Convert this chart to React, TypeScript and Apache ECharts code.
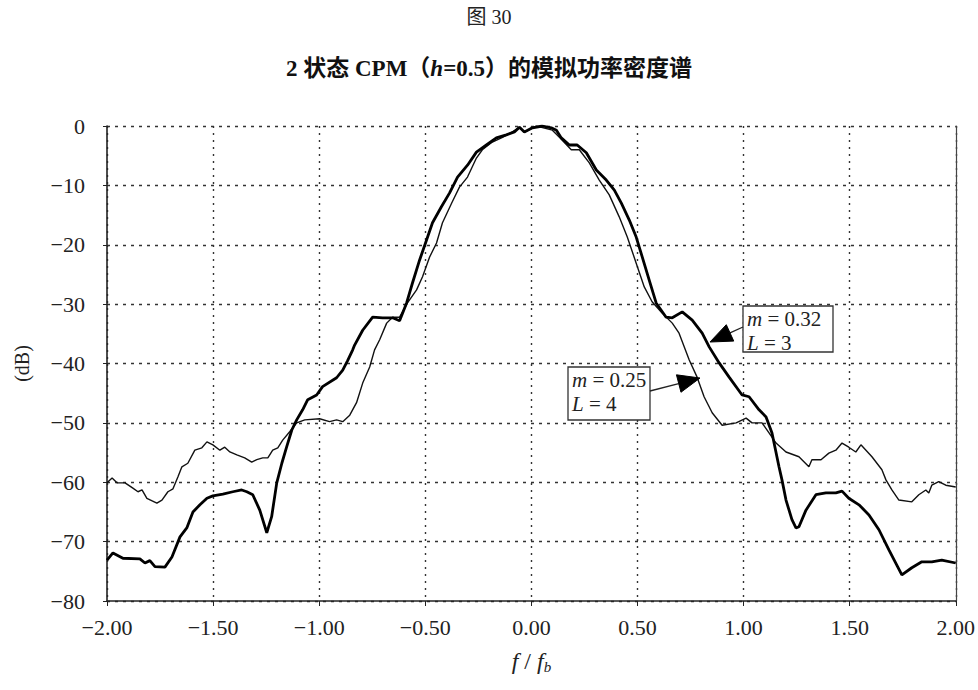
import React, { useEffect, useRef } from "react";
import * as echarts from "echarts";

const xTicks = [-2, -1.5, -1, -0.5, 0, 0.5, 1, 1.5, 2];
const yTicks = [0, -10, -20, -30, -40, -50, -60, -70, -80];

// m = 0.32, L = 3 (thick curve)
const thickX = [
  -2.0, -1.972, -1.925, -1.845, -1.821, -1.798, -1.774, -1.727, -1.694, -1.656,
  -1.624, -1.595, -1.562, -1.529, -1.501, -1.454, -1.407, -1.365, -1.341, -1.313,
  -1.28, -1.247, -1.224, -1.2, -1.176, -1.153, -1.129, -1.106, -1.078, -1.054,
  -1.012, -0.984, -0.918, -0.889, -0.866, -0.842, -0.833, -0.795, -0.748, -0.701,
  -0.654, -0.621, -0.588, -0.56, -0.527, -0.494, -0.466, -0.424, -0.386, -0.348,
  -0.301, -0.259, -0.212, -0.165, -0.118, -0.08, -0.056, -0.033, 0.005, 0.052,
  0.094, 0.118, 0.141, 0.179, 0.216, 0.259, 0.306, 0.353, 0.391, 0.424,
  0.461, 0.494, 0.522, 0.555, 0.588, 0.635, 0.664, 0.711, 0.758, 0.805,
  0.838, 0.885, 0.932, 0.993, 1.026, 1.073, 1.106, 1.134, 1.167, 1.181,
  1.2, 1.228, 1.247, 1.261, 1.294, 1.341, 1.388, 1.435, 1.464, 1.496,
  1.544, 1.591, 1.638, 1.685, 1.746, 1.793, 1.84, 1.887, 1.934, 2.0,
];
const thickY = [
  -73.1, -71.9, -72.8, -72.9, -73.6, -73.2, -74.2, -74.3, -72.6, -69.2,
  -67.7, -65.0, -63.8, -62.7, -62.3, -62.0, -61.6, -61.3, -61.6, -62.1,
  -64.7, -68.5, -65.8, -60.1, -56.8, -54.0, -51.2, -49.5, -47.8, -46.1,
  -45.3, -43.9, -42.4, -41.1, -39.5, -37.7, -36.9, -34.4, -32.2, -32.3,
  -32.3, -32.8, -29.8, -26.4, -22.6, -19.2, -16.3, -13.6, -11.3, -8.6,
  -6.6, -4.4, -3.2, -2.0, -1.5, -1.0, -0.2, -1.0, -0.3, 0,
  -0.3, -0.7, -2.0, -3.2, -3.2, -4.5, -7.4, -9.1, -10.8, -13.0,
  -15.8, -18.7, -22.0, -25.9, -29.8, -32.2, -32.3, -31.3, -32.7, -34.9,
  -37.2, -39.9, -42.3, -45.3, -45.6, -47.8, -49.0, -51.7, -57.4, -59.6,
  -63.0, -66.3, -67.7, -67.5, -64.7, -62.1, -61.8, -61.8, -61.5, -62.7,
  -63.8, -65.5, -68.0, -71.4, -75.6, -74.4, -73.4, -73.4, -73.1, -73.6,
];

// m = 0.25, L = 4 (thin curve)
const thinX = [
  -2.0, -1.976, -1.953, -1.915, -1.878, -1.854, -1.835, -1.812, -1.765, -1.741,
  -1.713, -1.689, -1.666, -1.647, -1.619, -1.586, -1.553, -1.529, -1.501, -1.468,
  -1.445, -1.421, -1.388, -1.351, -1.318, -1.294, -1.266, -1.242, -1.219, -1.195,
  -1.172, -1.139, -1.106, -1.068, -0.998, -0.951, -0.918, -0.889, -0.856, -0.824,
  -0.795, -0.762, -0.739, -0.715, -0.682, -0.654, -0.621, -0.584, -0.541, -0.513,
  -0.48, -0.447, -0.419, -0.376, -0.339, -0.301, -0.259, -0.231, -0.184, -0.136,
  -0.089, -0.056, -0.033, 0.024, 0.099, 0.132, 0.188, 0.226, 0.273, 0.32,
  0.367, 0.414, 0.452, 0.494, 0.532, 0.569, 0.616, 0.664, 0.696, 0.744,
  0.781, 0.814, 0.852, 0.899, 0.965, 1.012, 1.04, 1.087, 1.12, 1.153,
  1.2, 1.261, 1.308, 1.322, 1.365, 1.402, 1.435, 1.464, 1.496, 1.529,
  1.553, 1.605, 1.652, 1.671, 1.699, 1.732, 1.793, 1.826, 1.859, 1.873,
  1.887, 1.92, 1.953, 2.0,
];
const thinY = [
  -60.1, -59.3, -60.1, -60.1, -61.0, -61.6, -61.3, -62.7, -63.5, -63.0,
  -61.6, -61.1, -59.1, -57.4, -56.8, -54.6, -54.2, -53.2, -53.7, -54.6,
  -54.1, -54.9, -55.4, -55.9, -56.6, -56.2, -55.9, -55.9, -54.6, -54.2,
  -52.9, -51.5, -50.0, -49.5, -49.3, -49.8, -49.5, -49.8, -48.7, -46.6,
  -43.3, -40.6, -37.7, -36.0, -33.2, -32.2, -32.2, -29.8, -27.6, -25.4,
  -22.1, -19.7, -16.3, -13.0, -10.3, -8.6, -5.4, -4.0, -2.7, -1.9,
  -1.0, -0.2, -1.0, 0, -0.7, -1.9, -4.0, -4.0, -6.2, -9.1,
  -11.6, -15.3, -18.7, -23.1, -27.1, -29.6, -31.5, -33.2, -34.9, -39.4,
  -42.3, -45.6, -48.3, -50.4, -50.0, -49.2, -50.0, -50.0, -51.7, -53.4,
  -54.9, -55.7, -57.4, -56.2, -56.2, -55.1, -54.6, -53.4, -54.1, -54.9,
  -53.7, -55.7, -57.9, -59.6, -61.3, -63.0, -63.3, -62.1, -61.3, -61.8,
  -60.5, -59.9, -60.5, -60.8,
];

const SERIF = "'Liberation Serif', 'Times New Roman', serif";
const CJK = "'Liberation Serif', 'Noto Sans CJK SC', serif";

function minusFmt(s: string) {
  return s.replace("-", "\u2212");
}

function arrow(tail: number[], tip: number[], len: number, hw: number) {
  const dx = tip[0] - tail[0];
  const dy = tip[1] - tail[1];
  const d = Math.sqrt(dx * dx + dy * dy);
  const ux = dx / d;
  const uy = dy / d;
  const bx = tip[0] - ux * len;
  const by = tip[1] - uy * len;
  const px = -uy;
  const py = ux;
  return [
    {
      type: "line",
      shape: { x1: tail[0], y1: tail[1], x2: bx, y2: by },
      style: { stroke: "#222", lineWidth: 1.3 },
      z: 100,
    },
    {
      type: "polygon",
      shape: {
        points: [
          [tip[0], tip[1]],
          [bx + px * hw, by + py * hw],
          [bx - px * hw, by - py * hw],
        ],
      },
      style: { fill: "#000", stroke: "#000", lineWidth: 1 },
      z: 100,
    },
  ];
}

function box(x: number, y: number, w: number, h: number, mText: string, lText: string) {
  return [
    {
      type: "rect",
      shape: { x, y, width: w, height: h },
      style: { fill: "#fff", stroke: "#333", lineWidth: 1.3 },
      z: 100,
    },
    {
      type: "text",
      x: x + 4,
      y: y + 1,
      style: {
        text: "{i|m} = " + mText + "\n{i|L} = " + lText,
        fontFamily: SERIF,
        fontSize: 21,
        lineHeight: 24,
        fill: "#222",
        rich: {
          i: { fontStyle: "italic", fontFamily: SERIF, fontSize: 21, lineHeight: 24, fill: "#222" },
        },
      },
      z: 101,
    },
  ];
}

export default function App() {
  const ref = useRef<HTMLDivElement>(null);
  useEffect(() => {
    document.body.style.margin = "0";
    if (!ref.current) return;
    const chart = echarts.init(ref.current, undefined, { renderer: "svg" });
    const thickData = thickX.map((x, i) => [x, thickY[i]]);
    const thinData = thinX.map((x, i) => [x, thinY[i]]);
    const grid = { left: 107, right: 21, top: 126, bottom: 89 };
    chart.setOption({
      animation: false,
      backgroundColor: "#fff",
      title: [
        {
          text: "图 30",
          left: "center",
          top: 2,
          textStyle: { fontFamily: CJK, fontSize: 20, fontWeight: "normal", color: "#222" },
        },
        {
          text: "2 状态 CPM（{i|h}=0.5）的模拟功率密度谱",
          left: "center",
          top: 52,
          textStyle: {
            fontFamily: CJK,
            fontSize: 23,
            fontWeight: "bold",
            color: "#111",
            rich: {
              i: { fontFamily: SERIF, fontSize: 23, fontWeight: "bold", fontStyle: "italic", color: "#111" },
            },
          },
        },
      ],
      grid,
      xAxis: {
        type: "value",
        min: -2,
        max: 2,
        interval: 0.5,
        name: "{i|f} / {i|f}{s|b}",
        nameLocation: "middle",
        nameGap: 46,
        nameTextStyle: {
          fontFamily: SERIF,
          fontSize: 24,
          color: "#222",
          rich: {
            i: { fontFamily: SERIF, fontStyle: "italic", fontSize: 24, color: "#222" },
            s: { fontFamily: SERIF, fontStyle: "italic", fontSize: 15, color: "#222", padding: [12, 0, 0, 0] },
          },
        },
        axisLine: { show: true, onZero: false, lineStyle: { color: "#222", width: 1.6 } },
        axisTick: { show: true, length: 5, lineStyle: { color: "#222" } },
        axisLabel: {
          margin: 15,
          fontFamily: SERIF,
          fontSize: 22,
          color: "#222",
          formatter: (v: number) => minusFmt(v.toFixed(2)),
        },
        splitLine: { show: true, lineStyle: { color: "#333", type: [2, 5], width: 1.4 } },
      },
      yAxis: [
        {
          type: "value",
          min: -80,
          max: 0,
          interval: 10,
          name: "(dB)",
          nameLocation: "middle",
          nameGap: 75,
          nameRotate: 90,
          nameTextStyle: { fontFamily: SERIF, fontSize: 20, color: "#222" },
          axisLine: { show: true, onZero: false, lineStyle: { color: "#222", width: 1.6 } },
          axisTick: { show: true, length: 4, lineStyle: { color: "#222" } },
          axisLabel: {
            margin: 22,
            fontFamily: SERIF,
            fontSize: 22,
            color: "#222",
            formatter: (v: number) => (v === 0 ? "0" : minusFmt(String(v))),
          },
          splitLine: { show: true, lineStyle: { color: "#333", type: [3, 5], width: 1.4 } },
        },
        {
          type: "value",
          min: -80,
          max: 0,
          interval: 10,
          position: "right",
          axisLine: { show: true, onZero: false, lineStyle: { color: "#444", width: 1.2 } },
          axisTick: { show: false },
          axisLabel: { show: false },
          splitLine: { show: false },
        },
      ],
      series: [
        {
          name: "m = 0.25, L = 4",
          type: "line",
          data: thinData,
          showSymbol: false,
          symbol: "none",
          lineStyle: { color: "#111", width: 1.4 },
          z: 3,
        },
        {
          name: "m = 0.32, L = 3",
          type: "line",
          data: thickData,
          showSymbol: false,
          symbol: "none",
          lineStyle: { color: "#000", width: 2.8 },
          z: 4,
        },
      ],
      graphic: [
        ...box(743, 306, 90, 46, "0.32", "3"),
        ...arrow([743, 327], [710, 342], 22, 9),
        ...box(568, 367, 82, 53, "0.25", "4"),
        ...arrow([650, 391], [700, 378], 22, 9),
      ],
    });
    return () => chart.dispose();
  }, []);
  return <div ref={ref} style={{ width: 978, height: 690 }} />;
}
